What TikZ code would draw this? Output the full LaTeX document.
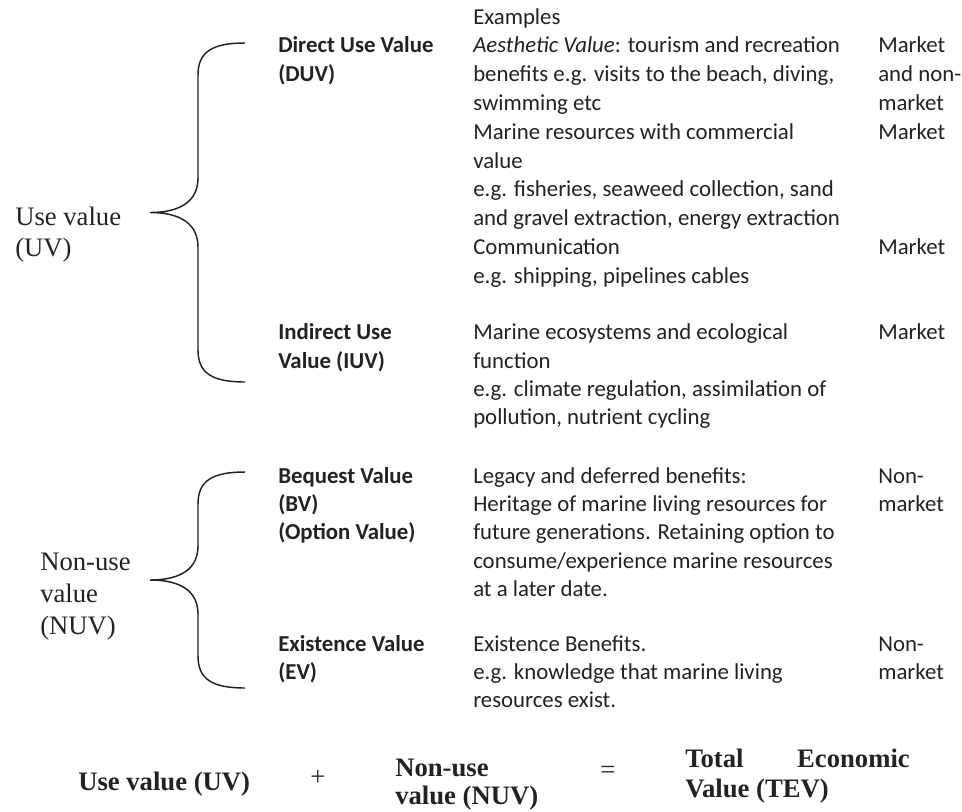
\documentclass[tikz,border=0pt]{standalone}
\usepackage{fontspec}
\newfontfamily\calfont{Carlito}
\newfontfamily\tmsfont{Liberation Serif}
\definecolor{ink}{HTML}{222222}
\begin{document}
\begin{tikzpicture}[x=0.75pt,y=-0.75pt,
  txt/.style={anchor=base west,inner sep=0pt,font=\calfont\fontsize{17.1}{20}\selectfont,text=ink},
  btxt/.style={txt,font=\calfont\bfseries\fontsize{17.1}{20}\selectfont},
  lbl/.style={anchor=base west,inner sep=0pt,font=\tmsfont\fontsize{20}{24}\selectfont,text=ink},
  blbl/.style={lbl,font=\tmsfont\bfseries\fontsize{20}{24}\selectfont},
  bracestyle/.style={draw=ink,line width=1.1pt}]
\useasboundingbox (0,0) rectangle (962,811);

% column 2: examples
\foreach \yy/\tx [count=\i] in {
  24/{Examples},
  52.8/{\textit{Aesthetic Value}: tourism and recreation},
  81.6/{benefits e.g. visits to the beach, diving,},
  110.4/{swimming etc},
  139.2/{Marine resources with commercial},
  168/{value},
  196.8/{e.g. fisheries, seaweed collection, sand},
  225.6/{and gravel extraction, energy extraction},
  254.4/{Communication},
  283.2/{e.g. shipping, pipelines cables},
  339/{Marine ecosystems and ecological},
  368/{function},
  396/{e.g. climate regulation, assimilation of},
  424/{pollution, nutrient cycling},
  483/{Legacy and deferred benefits:},
  511/{Heritage of marine living resources for},
  539/{future generations. Retaining option to},
  568/{consume/experience marine resources},
  596/{at a later date.},
  651/{Existence Benefits.},
  679/{e.g. knowledge that marine living},
  707/{resources exist.}}
  {\node[txt] (ex\i) at (473,\yy) {\tx};}

% column 1: value types
\foreach \yy/\tx [count=\i] in {
  52.8/{Direct Use Value},
  81.6/{(DUV)},
  339/{Indirect Use},
  368/{Value (IUV)},
  483/{Bequest Value},
  511/{(BV)},
  539/{(Option Value)},
  651/{Existence Value},
  679/{(EV)}}
  {\node[btxt] (vt\i) at (278,\yy) {\tx};}

% column 3: market
\foreach \yy/\tx [count=\i] in {
  52.8/{Market},
  81.6/{and non-},
  110.4/{market},
  139.2/{Market},
  254.4/{Market},
  339/{Market},
  483/{Non-},
  511/{market},
  651/{Non-},
  679/{market}}
  {\node[txt] (mk\i) at (878,\yy) {\tx};}

% left labels
\node[lbl] (uv1) at (15,225) {Use value};
\node[lbl] (uv2) at (15,256) {(UV)};
\node[lbl] (nu1) at (40,570) {Non-use};
\node[lbl] (nu2) at (40,602) {value};
\node[lbl] (nu3) at (40,634) {(NUV)};

% braces
\coordinate (b1t) at (245,43);
\coordinate (b1m) at (150,212.5);
\coordinate (b1b) at (245,382);
\draw[bracestyle] (b1t) .. controls (212,43) and (198,52) .. (198,75)
  -- (198,178) .. controls (198,200) and (182,212.5) .. (b1m)
  .. controls (182,212.5) and (198,225) .. (198,247)
  -- (198,350) .. controls (198,373) and (212,382) .. (b1b);
\coordinate (b2t) at (245,472);
\coordinate (b2m) at (150,580);
\coordinate (b2b) at (245,688);
\draw[bracestyle] (b2t) .. controls (212,472) and (198,481) .. (198,504)
  -- (198,546) .. controls (198,568) and (182,580) .. (b2m)
  .. controls (182,580) and (198,592) .. (198,614)
  -- (198,656) .. controls (198,679) and (212,688) .. (b2b);

% bottom equation
\node[blbl] (equv) at (78,790) {Use value (UV)};
\node[lbl,anchor=center] (plus) at (318,778) {+};
\node[blbl] (eqnu1) at (395,776) {Non-use};
\node[blbl] (eqnu2) at (395,804.5) {value (NUV)};
\node[lbl,anchor=center] (eq) at (608,772) {=};
\node[blbl] (tev1) at (685,767) {Total};
\node[blbl,anchor=base east] (tev2) at (910,767) {Economic};
\node[blbl] (tev3) at (685,797) {Value (TEV)};
\end{tikzpicture}
\end{document}
